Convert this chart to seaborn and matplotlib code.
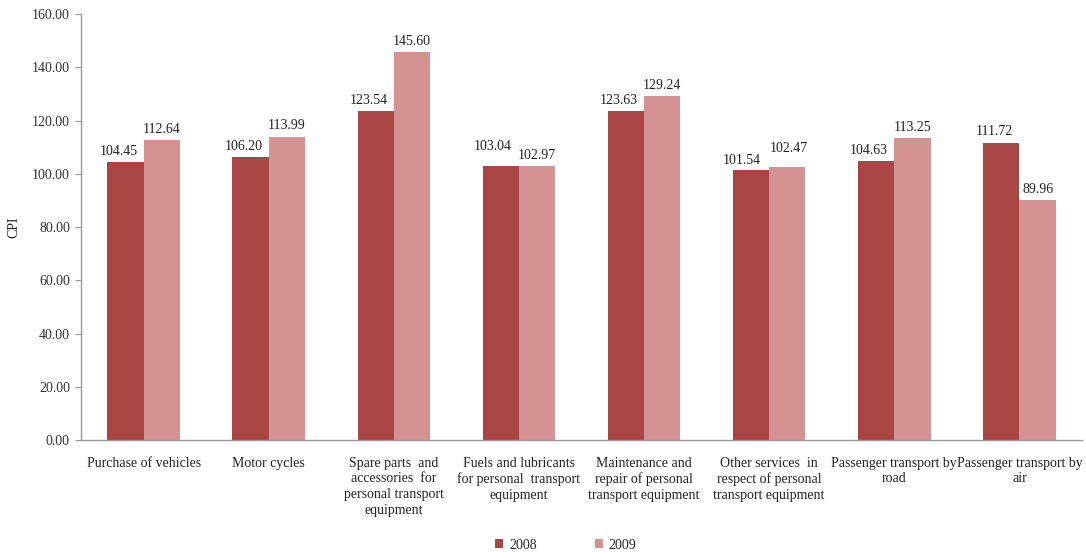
import matplotlib
matplotlib.use("Agg")
import matplotlib.pyplot as plt
import seaborn as sns
import pandas as pd
from matplotlib.patches import Patch

categories = [
    "Purchase of vehicles",
    "Motor cycles",
    "Spare parts  and\naccessories  for\npersonal transport\nequipment",
    "Fuels and lubricants\nfor personal  transport\nequipment",
    "Maintenance and\nrepair of personal\ntransport equipment",
    "Other services  in\nrespect of personal\ntransport equipment",
    "Passenger transport by\nroad",
    "Passenger transport by\nair",
]
cpi_2008 = [104.45, 106.20, 123.54, 103.04, 123.63, 101.54, 104.63, 111.72]
cpi_2009 = [112.64, 113.99, 145.60, 102.97, 129.24, 102.47, 113.25, 89.96]
years = ["2008", "2009"]
colors = ["#A84646", "#D49292"]

df = pd.DataFrame({
    "cat": categories * 2,
    "CPI": cpi_2008 + cpi_2009,
    "year": [years[0]] * len(categories) + [years[1]] * len(categories),
})

sns.set_style("white")
plt.rcParams["font.family"] = ["Liberation Serif", "DejaVu Serif"]

fs = 10
fig = plt.figure(figsize=(10.86, 5.52), dpi=100)
ax = fig.add_axes([0.0746, 0.2029, 0.9217, 0.7717])

sns.barplot(data=df, x="cat", y="CPI", hue="year", palette=colors,
            width=0.58, saturation=1, ax=ax, legend=False, edgecolor="none")

labels = []
for cont in ax.containers:
    labels.append(ax.bar_label(cont, fmt="%.2f", padding=3, fontsize=fs, color="#222222"))

# 2008 labels sit slightly left of their bars (as in the source chart)
for ann in labels[0]:
    ann.xyann = (-5, 3)

ax.set_ylim(0, 160)
ax.set_yticks(range(0, 161, 20))
ax.set_yticklabels([f"{v:.2f}" for v in range(0, 161, 20)], fontsize=fs, color="#333333")
ax.set_xlim(-0.5, len(categories) - 0.5)
ax.set_xticks(range(len(categories)))
ax.set_xticklabels(categories, fontsize=fs, color="#222222", linespacing=1.27)
ax.set_xticks([i - 0.5 for i in range(len(categories) + 1)], minor=True)
ax.tick_params(axis="x", which="major", length=0, pad=12)
ax.tick_params(axis="x", which="minor", length=4, color="#999999", direction="out")
ax.tick_params(axis="y", length=4, color="#999999", direction="out", left=True, pad=4)
ax.set_xlabel("")
ax.set_ylabel("CPI", fontsize=fs, color="#222222", labelpad=8)

for s in ["top", "right"]:
    ax.spines[s].set_visible(False)
for s in ["left", "bottom"]:
    ax.spines[s].set_color("#999999")
    ax.spines[s].set_linewidth(1)

# crowded value labels: lift the label of the taller bar
fig.canvas.draw()
r = fig.canvas.get_renderer()
for i, (a, b) in enumerate(zip(labels[0], labels[1])):
    ba = a.get_window_extent(r).expanded(1.45, 1.0)
    bb = b.get_window_extent(r)
    if ba.overlaps(bb):
        if cpi_2008[i] >= cpi_2009[i]:
            a.xyann = (a.xyann[0] - 1, a.xyann[1] + 6)
        else:
            b.xyann = (b.xyann[0] + 1, b.xyann[1] + 6)
            a.xyann = (a.xyann[0] - 2, a.xyann[1] - 1)

handles = [Patch(facecolor=c, edgecolor="none") for c in colors]
fig.legend(handles, years, loc="lower center", bbox_to_anchor=(0.521, -0.022), ncol=2,
           frameon=False, fontsize=fs, handlelength=0.6, handleheight=0.6,
           handletextpad=0.4, columnspacing=4.2)

fig.savefig("out.png", dpi=100)
